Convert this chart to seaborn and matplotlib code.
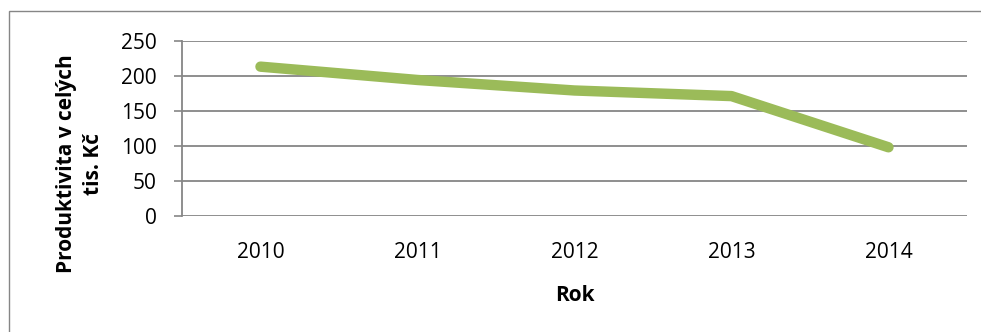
import matplotlib
matplotlib.use("Agg")
import matplotlib.pyplot as plt
import seaborn as sns
import pandas as pd

years = ["2010", "2011", "2012", "2013", "2014"]
productivity = [213, 194, 179, 171, 98]
yticks = [0, 50, 100, 150, 200, 250]

sns.set_style("white")
plt.rcParams["font.family"] = ["Open Sans", "DejaVu Sans"]

df = pd.DataFrame({"Rok": years, "Produktivita": productivity})

fig = plt.figure(figsize=(9.81, 3.32), dpi=100)
ax = fig.add_axes([0.1855, 0.3494, 0.8002, 0.528])

sns.lineplot(data=df, x="Rok", y="Produktivita", ax=ax, color="#9BBB59",
             linewidth=7.5, solid_capstyle="round", solid_joinstyle="round",
             sort=False)

fs = 15
ax.set_xlim(-0.5, len(years) - 0.5)
ax.set_ylim(0, 250)
ax.set_yticks(yticks)
ax.set_yticklabels([str(t) for t in yticks], fontsize=fs, color="black")
ax.tick_params(axis="y", length=6, width=1.2, color="#868686", direction="out", pad=12, left=True)
ax.tick_params(axis="x", length=0, pad=19, labelsize=fs, labelcolor="black")
ax.grid(axis="y", color="#868686", linewidth=1.3)
ax.set_axisbelow(True)
for side in ["top", "right", "bottom"]:
    ax.spines[side].set_visible(False)
ax.spines["left"].set_color("#868686")
ax.spines["left"].set_linewidth(1.3)

ax.set_xlabel("Rok", fontsize=fs, fontweight="bold", color="black")
ax.xaxis.label.set_va("center")
ax.xaxis.set_label_coords(0.5, -0.456)
ax.set_ylabel("Produktivita v celých\ntis. Kč", fontsize=fs, fontweight="bold",
              color="black", linespacing=1.35)
ax.yaxis.label.set_va("center")
ax.yaxis.set_label_coords(-0.13, 0.297)

# outer chart border (top and left edges visible)
border = plt.Rectangle((9 / 981, -0.2), 1.2, 1.2 - 11 / 332, transform=fig.transFigure,
                       fill=False, edgecolor="#868686", linewidth=1.0)
fig.add_artist(border)

fig.savefig("out.png", dpi=100)
